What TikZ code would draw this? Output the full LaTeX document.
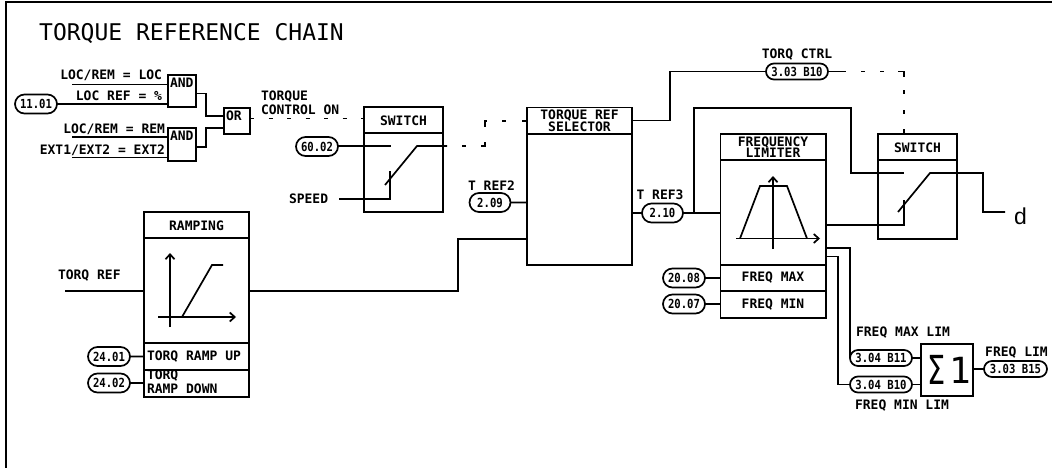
\documentclass[tikz,border=0pt]{standalone}
\usepackage{fontspec}
\setmainfont{DejaVu Sans Mono}
\newfontfamily\dfont{Liberation Sans}
\newfontfamily\ovalfont[FakeStretch=0.85]{DejaVu Sans Mono}
\newfontfamily\sigfont[FakeStretch=0.72]{DejaVu Sans}
\usetikzlibrary{shapes.misc,arrows.meta}
\tikzset{
  wire/.style={line width=1.7pt},
  thick wire/.style={line width=2.4pt},
  blk/.style={draw,line width=1.8pt,inner sep=0pt,outer sep=0pt,rectangle},
  oval/.style={draw,line width=1.7pt,rounded rectangle,inner sep=0pt,outer sep=0pt,font=\fontsize{12.5}{12.5}\selectfont\ovalfont\bfseries,minimum height=19pt},
  ovalb/.style={oval,minimum height=16pt},
  lbl/.style={inner sep=0pt,outer sep=0pt,font=\fontsize{13}{13}\selectfont\bfseries},
  axis/.style={line width=1.7pt,-{Straight Barb[length=5pt,width=9pt]}},
}
\newcommand{\blk}[7]{% name, x1,y1,x2,y2, options, text
  \node[blk,minimum width=\the\dimexpr#4pt-#2pt\relax,minimum height=\the\dimexpr#5pt-#3pt\relax,anchor=north west,#6] (#1) at (#2,#3) {#7};}
\begin{document}
\begin{tikzpicture}[x=1pt,y=-1pt]
\useasboundingbox (0,0) rectangle (1052,468);
\fill[white] (0,0) rectangle (1052,468);
\draw[line width=2pt] (6,468) -- (6,2) -- (1052,2);
\node[inner sep=0pt,anchor=west,font=\fontsize{23}{23}\selectfont] (title) at (39,33) {TORQUE REFERENCE CHAIN};
% logic
\blk{and1}{168}{75}{196}{107}{}{}
\blk{and2}{168}{128}{196}{161}{}{}
\blk{orb}{224}{108}{250}{134}{}{}
\node[lbl,anchor=north west] (andt1) at (170,78) {AND};
\node[lbl,anchor=north west] (andt2) at (170,131) {AND};
\node[lbl,anchor=north west] (ort) at (226,111) {OR};
\node[lbl,anchor=east] (l1) at (162,75) {LOC/REM = LOC};
\node[lbl,anchor=east] (l2) at (162,96) {LOC REF = \%};
\node[lbl,anchor=east] (l3) at (165,129) {LOC/REM = REM};
\node[lbl,anchor=east] (l4) at (165,150) {EXT1/EXT2 = EXT2};
\node[oval,minimum width=42pt] (p1101) at (36,104) {11.01};
\coordinate (i1) at (72,84.5);
\coordinate (i3) at (72,137);
\coordinate (i4) at (72,157.5);
\draw[wire] (i1) -- (and1.west |- i1);
\draw[wire] (p1101) -- (and1.west |- p1101);
\draw[wire] (i3) -- (and2.west |- i3);
\draw[wire] (i4) -- (and2.west |- i4);
\draw[wire] (and1.east |- 0,93.5) -| (206,116) -- (orb.west |- 0,116);
\draw[wire] (and2.east |- 0,147) -| (206,128) -- (orb.west |- 0,128);
\node[lbl,anchor=west] (tc1) at (261,97) {TORQUE};
\node[lbl,anchor=west] (tc2) at (261,110) {CONTROL ON};
% switch 1
\blk{sw1}{364}{107}{443}{212}{}{}
\draw[blk] (sw1.west |- 0,133) -- (sw1.east |- 0,133);
\node[lbl] (sw1t) at (403.5,120.5) {SWITCH};
\draw[wire,dash pattern=on 4pt off 14.5pt] (orb.east |- 0,118.5) -- (sw1.west |- 0,118.5);
\node[oval,minimum width=42pt] (p6002) at (317,146.5) {60.02};
\coordinate (c1a) at (391,146);
\coordinate (c1b) at (417,146);
\coordinate (c1c) at (447,146);
\coordinate (c1d) at (385,185);
\draw[wire] (p6002.east |- c1a) -- (c1a);
\draw[wire] (c1c) -- (c1b) -- (c1d);
\node[lbl,anchor=west] (speed) at (289,199) {SPEED};
\coordinate (s1) at (390,171);
\draw[wire] (speed.east) ++(11,0) coordinate (s0) -- (s0 -| s1) -- (s1);
% selector
\blk{sel}{527}{107.5}{632}{265}{}{}
\draw[blk] (sel.west |- 0,134) -- (sel.east |- 0,134);
\node[align=center,font=\fontsize{13}{11.5}\selectfont\bfseries,inner sep=0pt] (selt) at (579.5,121) {TORQUE REF\\SELECTOR};
\draw[wire,dash pattern=on 0pt off 15pt on 4pt off 15pt on 8pt off 15pt on 8pt off 15pt on 4pt off 16pt on 4pt off 10pt] (c1c) -- (485,146) -- (485,121) -- (sel.west |- 0,121);
\node[lbl] (tr2) at (491.5,186) {T REF2};
\node[oval,minimum width=41pt] (p209) at (490,202.5) {2.09};
\draw[wire] (p209) -- (sel.west |- p209);
\node[lbl] (tr3) at (660,195) {T REF3};
\node[oval,minimum width=41pt] (p210) at (662.5,213) {2.10};
\draw[wire] (sel.east |- p210) -- (p210);
% ramping
\blk{rampb}{144}{212}{249}{397}{}{}
\draw[blk] (rampb.west |- 0,238) -- (rampb.east |- 0,238);
\draw[blk] (rampb.west |- 0,343) -- (rampb.east |- 0,343);
\draw[blk] (rampb.west |- 0,370) -- (rampb.east |- 0,370);
\node[lbl] (rampt) at (196.5,226) {RAMPING};
\draw[axis] (170,327) -- (170,253);
\draw[axis] (158,317) -- (236,317);
\draw[thick wire] (170,317) -- (182,317);
\draw[wire] (182,317) -- (212,265) -- (223,265);
\node[lbl,anchor=west] (tref) at (58,276) {TORQ REF};
\coordinate (t0) at (65,291);
\draw[wire] (t0) -- (rampb.west |- t0);
\coordinate (r1) at (458,291);
\draw[wire] (rampb.east |- r1) -- (r1) |- (sel.west |- 0,239);
\node[oval,minimum width=42pt] (p2401) at (109,356.5) {24.01};
\node[oval,minimum width=42pt] (p2402) at (109,383) {24.02};
\draw[wire] (p2401) -- (rampb.west |- p2401);
\draw[wire] (p2402) -- (rampb.west |- p2402);
\node[lbl,anchor=west] (ru) at (147,357) {TORQ RAMP UP};
\node[lbl,anchor=west] (rd1) at (147,376) {TORQ};
\node[lbl,anchor=west] (rd2) at (147,389) {RAMP DOWN};
% frequency limiter
\blk{fl}{720.5}{134}{826}{318}{}{}
\draw[blk] (fl.west |- 0,160) -- (fl.east |- 0,160);
\draw[blk] (fl.west |- 0,265) -- (fl.east |- 0,265);
\draw[blk] (fl.west |- 0,291) -- (fl.east |- 0,291);
\node[align=center,font=\fontsize{13}{11.5}\selectfont\bfseries,inner sep=0pt] (flt) at (773,147) {FREQUENCY\\LIMITER};
\draw[axis] (773,249) -- (773,176);
\draw[axis] (736,238.5) -- (820,238.5);
\draw[wire] (740,238.5) -- (760,186) -- (787,186) -- (807,238.5);
\node[lbl] (fmax) at (773,277.5) {FREQ MAX};
\node[lbl] (fmin) at (773,304.5) {FREQ MIN};
\node[oval,minimum width=42pt] (p2008) at (684,278) {20.08};
\node[oval,minimum width=42pt] (p2007) at (684,304) {20.07};
\draw[wire] (p2008) -- (fl.west |- p2008);
\draw[wire] (p2007) -- (fl.west |- p2007);
\draw[wire] (p210) -- (fl.west |- p210);
% torq ctrl
\node[ovalb,minimum width=62pt] (p303b10) at (797,71.5) {3.03 B10};
\node[lbl] (tqc) at (797,55) {TORQ CTRL};
\draw[wire] (sel.east |- 0,120.5) -| (670,71.5) -- (p303b10);
% switch 2
\blk{sw2}{878}{134}{957}{239}{}{}
\draw[blk] (sw2.west |- 0,160) -- (sw2.east |- 0,160);
\node[lbl] (sw2t) at (917.5,147.5) {SWITCH};
\coordinate (c2a) at (904,173);
\coordinate (c2b) at (930,173);
\coordinate (c2d) at (898,212);
\coordinate (c2e) at (983,173);
\coordinate (c2f) at (1005,212);
\node[inner sep=0pt,anchor=base west,font=\fontsize{23}{23}\selectfont\dfont] (dd) at (1014,224) {d};
\draw[wire] (694,213) |- (851,108) |- (c2a);
\draw[wire] (c2d) -- (c2b) -- (c2e) |- (c2f);
\draw[wire] (fl.east |- 0,225) -| (904,200);
\draw[wire] (p303b10.east) -- (846,71.5);
\draw[wire,dash pattern=on 0pt off 15pt on 4pt off 15pt on 4pt off 14pt on 12pt off 13pt on 4pt off 16pt on 4pt off 15pt on 6pt off 20pt] (846,71.5) -- (904,71.5) -- (sw2.north -| c2a);
% limits
\blk{sumb}{921}{344}{973}{396}{}{}
\node[inner sep=0pt,font=\fontsize{40}{40}\selectfont\sigfont] (sig) at (937,370) {Σ};
\node[inner sep=0pt,font=\fontsize{36}{36}\selectfont] (one) at (960,370) {1};
\node[ovalb,minimum width=62pt] (pb11) at (881,358) {3.04 B11};
\node[ovalb,minimum width=62pt] (pb10) at (881,384.5) {3.04 B10};
\node[ovalb,minimum width=63pt] (pb15) at (1015.5,369) {3.03 B15};
\draw[wire] (fl.east |- 0,248) -| (850,358) -- (pb11.west);
\draw[wire] (fl.east |- 0,256.5) -| (838,384.5) -- (pb10.west);
\draw[wire] (pb11.east) -- (sumb.west |- pb11);
\draw[wire] (pb10.east) -- (sumb.west |- pb10);
\draw[wire] (sumb.east |- pb15) -- (pb15.west);
\node[lbl] (fl1) at (903,333) {FREQ MAX LIM};
\node[lbl] (fl2) at (902,406) {FREQ MIN LIM};
\node[lbl] (fl3) at (1016.5,353) {FREQ LIM};
\end{tikzpicture}
\end{document}
